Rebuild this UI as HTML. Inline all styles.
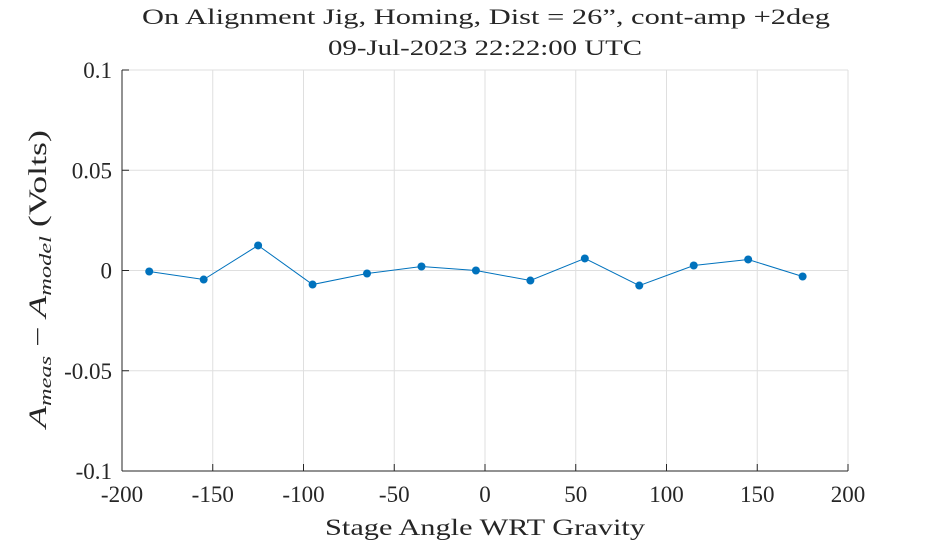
<!DOCTYPE html>
<html><head><meta charset="utf-8"><style>
body{margin:0;background:#fff;}
svg{display:block;font-family:"Liberation Serif",serif;}
</style></head><body>
<svg id="chart" width="938" height="546">
<g id="grid"></g>
<line x1="122" y1="70" x2="122" y2="471" stroke="#262626" stroke-width="1"/>
<line x1="122" y1="471" x2="848" y2="471" stroke="#262626" stroke-width="1"/>
<g id="ticks"></g>
<g id="series"></g>
<text x="486" y="24" text-anchor="middle" font-size="22" textLength="688" lengthAdjust="spacingAndGlyphs" fill="#262626">On Alignment Jig, Homing, Dist = 26”, cont-amp +2deg</text>
<text x="485" y="55" text-anchor="middle" font-size="22" textLength="314" lengthAdjust="spacingAndGlyphs" fill="#262626">09-Jul-2023 22:22:00 UTC</text>
<text x="485" y="535" text-anchor="middle" font-size="23" textLength="320" lengthAdjust="spacingAndGlyphs" fill="#262626">Stage Angle WRT Gravity</text>
<text transform="translate(46,279) rotate(-90)" text-anchor="middle" font-size="25" textLength="298" lengthAdjust="spacingAndGlyphs" fill="#262626"><tspan font-style="italic">A</tspan><tspan font-style="italic" font-size="17" dy="5">meas</tspan><tspan dy="-5"> − </tspan><tspan font-style="italic">A</tspan><tspan font-style="italic" font-size="17" dy="5">model</tspan><tspan dy="-5"> (Volts)</tspan></text>
</svg>
<script>
const xValues=[-185,-155,-125,-95,-65,-35,-5,25,55,85,115,145,175];
const yValues=[-0.0005,-0.0045,0.0125,-0.007,-0.0015,0.002,0,-0.005,0.006,-0.0075,0.0025,0.0055,-0.003];
const xTicks=[-200,-150,-100,-50,0,50,100,150,200];
const yTicks=[-0.1,-0.05,0,0.05,0.1];
const yTickLabels=["-0.1","-0.05","0","0.05","0.1"];
const L=122,R=848,T=70,B=471;
const xs=v=>L+(v+200)/400*(R-L);
const ys=v=>B-(v+0.1)/0.2*(B-T);
const NS="http://www.w3.org/2000/svg";
const g=document.getElementById('grid'),tk=document.getElementById('ticks'),s=document.getElementById('series');
function mk(tag,at,p){const e=document.createElementNS(NS,tag);for(const k in at)e.setAttribute(k,at[k]);p.appendChild(e);return e;}
xTicks.forEach(v=>{const x=xs(v);
 const l=mk('line',{x1:x,x2:x,y1:T,y2:B,stroke:'#dfdfdf','stroke-width':1},g);
 
 
 const t1=mk('line',{x1:x,x2:x,y1:B,y2:B-7,stroke:'#262626','stroke-width':1},tk);
 
 
 const t=mk('text',{x:x,y:B+31,'text-anchor':'middle','font-size':23,fill:'#262626'},tk);
 t.textContent=v;
 
 
});
yTicks.forEach((v,i)=>{const y=ys(v);
 const l=mk('line',{x1:L,x2:R,y1:y,y2:y,stroke:'#dfdfdf','stroke-width':1},g);
 
 
 const t1=mk('line',{x1:L,x2:L+7,y1:y,y2:y,stroke:'#262626','stroke-width':1},tk);
 
 
 const t=mk('text',{x:L-10,y:y+8,'text-anchor':'end','font-size':23,fill:'#262626'},tk);
 t.textContent=yTickLabels[i];
 
 
});
const pts=xValues.map((v,i)=>xs(v)+','+ys(yValues[i])).join(' ');
const pl=mk('polyline',{points:pts,fill:'none',stroke:'#0072BD','stroke-width':1},s);


xValues.forEach((v,i)=>{
 const c=mk('circle',{cx:xs(v),cy:ys(yValues[i]),r:4,fill:'#0072BD'},s);
 
 
});
</script>
</body></html>
